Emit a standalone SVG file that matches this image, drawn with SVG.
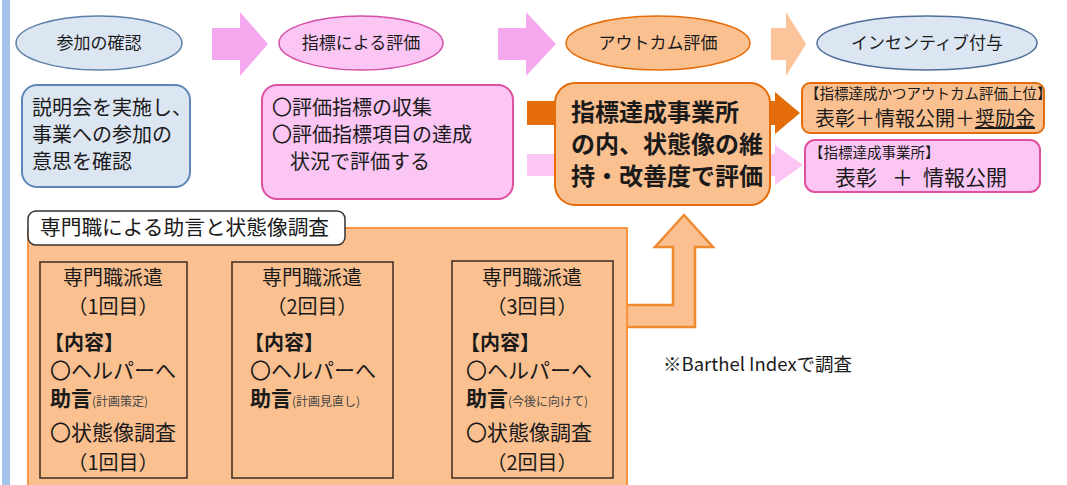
<svg xmlns="http://www.w3.org/2000/svg" width="1067" height="485" viewBox="0 0 1067 485">
<defs>
<style>
text{font-family:"Noto Sans CJK JP","Noto Sans",sans-serif;fill:#1a1a1a}
.t20{font-size:20px}
.t21{font-size:21px}
.el{font-size:17px}
.t14{font-size:14.5px}
.sm{font-size:12px;fill:#444;font-weight:normal}
.c{text-anchor:middle}
.inner{fill:#fac090;stroke:#3b2a20;stroke-width:1.5}
.dash{fill:none;stroke:#1a1a1a;stroke-width:2;stroke-dasharray:6 5}
.hd{stroke:#1a1a1a;stroke-width:2;fill:none}
</style>
</defs>
<rect x="0" y="0" width="1067" height="485" fill="#ffffff"/>
<rect x="2" y="0" width="8" height="485" fill="#a3c4e8"/>

<g id="connectors">
<path d="M212,28 H240 V12 L268,44 L240,76 V60 H212 Z" fill="#f6a8ef"/>
<path d="M498,28 H526 V12 L556,44 L526,76 V60 H498 Z" fill="#f6a8ef"/>
<path d="M771,28 H786 V12 L806,44 L786,76 V60 H771 Z" fill="#fbc49a"/>
<path d="M527,101 H775 V92 L800,113 L775,134 V125 H527 Z" fill="#e46c0a"/>
<path d="M527,154 H775 V145 L803,165 L775,185 V176 H527 Z" fill="#fbc6f4"/>
<path d="M627,305 H673 V247 H655 L684,215 L713,247 H695 V327 H627 Z" fill="#fac090" stroke="#f08a30" stroke-width="2.5"/>
<g id="cyc1">
<path class="dash" d="M198,376 A13,13 0 0 1 214,356"/>
<path class="hd" d="M212,352 L220,361"/>
<path class="dash" d="M227,362 A13,13 0 0 1 209,386"/>
<path class="hd" d="M210,381 L205,392 L214,389"/>
</g>
<g id="cyc2">
<path class="dash" d="M411,376 A13,13 0 0 1 427,356"/>
<path class="hd" d="M425,352 L433,361"/>
<path class="dash" d="M440,362 A13,13 0 0 1 422,386"/>
<path class="hd" d="M423,381 L418,392 L427,389"/>
</g>
</g>

<g id="ell1">
<ellipse cx="99" cy="43" rx="83" ry="27" fill="#dce6f2" stroke="#5b7fa8" stroke-width="1.5"/>
<text x="99" y="49" class="el c">参加の確認</text>
</g>
<g id="ell2">
<ellipse cx="361" cy="43" rx="82" ry="27" fill="#fbc6f4" stroke="#d44fa8" stroke-width="1.5"/>
<text x="361" y="49" class="el c">指標による評価</text>
</g>
<g id="ell3">
<ellipse cx="658" cy="43" rx="92" ry="27" fill="#fac090" stroke="#e46c0a" stroke-width="1.5"/>
<text x="658" y="49" class="el c">アウトカム評価</text>
</g>
<g id="ell4">
<ellipse cx="927" cy="43" rx="110" ry="27" fill="#dce6f2" stroke="#4f6f99" stroke-width="1.5"/>
<text x="927" y="49" class="el c">インセンティブ付与</text>
</g>

<g id="box1">
<rect x="22" y="85" width="168" height="102" rx="15" fill="#dce6f2" stroke="#5b87b9" stroke-width="2"/>
<text x="32" y="115" class="t20">説明会を実施し、</text>
<text x="32" y="142" class="t20">事業への参加の</text>
<text x="32" y="169" class="t20">意思を確認</text>
</g>
<g id="box2">
<rect x="262" y="85" width="251" height="114" rx="15" fill="#fbc6f4" stroke="#e0509e" stroke-width="2"/>
<text x="272" y="115" class="t20">〇評価指標の収集</text>
<text x="272" y="142" class="t20">〇評価指標項目の達成</text>
<text x="290" y="169" class="t20">状況で評価する</text>
</g>
<g id="box3">
<rect x="555" y="83" width="215" height="122" rx="20" fill="#fac090" stroke="#e46c0a" stroke-width="2"/>
<text x="571" y="121" style="font-size:24px;font-weight:bold">指標達成事業所</text>
<text x="571" y="153" style="font-size:24px;font-weight:bold">の内、状態像の維</text>
<text x="571" y="185" style="font-size:24px;font-weight:bold">持・改善度で評価</text>
</g>
<g id="box4">
<rect x="802" y="83" width="242" height="50" rx="8" fill="#fac090" stroke="#e46c0a" stroke-width="2"/>
<text x="805" y="99" class="t14">【指標達成かつアウトカム評価上位】</text>
<text x="815" y="126" style="font-size:20px">表彰＋情報公開＋<tspan text-decoration="underline">奨励金</tspan></text>
</g>
<g id="box5">
<rect x="805" y="140" width="235" height="52" rx="10" fill="#fbc6f4" stroke="#e0509e" stroke-width="2"/>
<text x="809" y="158" class="t14">【指標達成事業所】</text>
<text y="185" style="font-size:21px"><tspan x="835">表彰</tspan><tspan x="892">＋</tspan><tspan x="923">情報公開</tspan></text>
</g>

<g id="panel">
<rect x="28" y="228" width="599" height="262" fill="#fac090" stroke="#f79646" stroke-width="2"/>
<rect x="28" y="211" width="317" height="34" rx="8" fill="#ffffff" stroke="#333" stroke-width="1.5"/>
<text x="40" y="235" style="font-size:20.7px">専門職による助言と状態像調査</text>
</g>

<g id="d1">
<rect x="40" y="262" width="147" height="216" class="inner"/>
<text x="113" y="285" class="t20 c">専門職派遣</text>
<text x="113" y="314" class="t20 c">（1回目）</text>
<text x="44" y="350" class="t20" style="font-weight:bold">【内容】</text>
<text x="50" y="378" class="t21">〇ヘルパーへ</text>
<text x="50" y="406" class="t21" style="font-weight:bold">助言<tspan class="sm">(計画策定)</tspan></text>
<text x="50" y="440" class="t21">〇状態像調査</text>
<text x="113" y="470" class="t20 c">（1回目）</text>
</g>
<g id="d2">
<rect x="232" y="262" width="161" height="216" class="inner"/>
<text x="312" y="285" class="t20 c">専門職派遣</text>
<text x="312" y="314" class="t20 c">（2回目）</text>
<text x="244" y="350" class="t20" style="font-weight:bold">【内容】</text>
<text x="250" y="378" class="t21">〇ヘルパーへ</text>
<text x="250" y="406" class="t21" style="font-weight:bold">助言<tspan class="sm">(計画見直し)</tspan></text>
</g>
<g id="d3">
<rect x="452" y="261" width="161" height="217" class="inner"/>
<text x="532" y="285" class="t20 c">専門職派遣</text>
<text x="532" y="314" class="t20 c">（3回目）</text>
<text x="460" y="350" class="t20" style="font-weight:bold">【内容】</text>
<text x="466" y="378" class="t21">〇ヘルパーへ</text>
<text x="466" y="406" class="t21" style="font-weight:bold">助言<tspan class="sm">(今後に向けて)</tspan></text>
<text x="466" y="440" class="t21">〇状態像調査</text>
<text x="532" y="470" class="t20 c">（2回目）</text>
</g>

<g id="note">
<text x="663" y="371" style="font-size:18.5px">※Barthel Indexで調査</text>
</g>
</svg>
